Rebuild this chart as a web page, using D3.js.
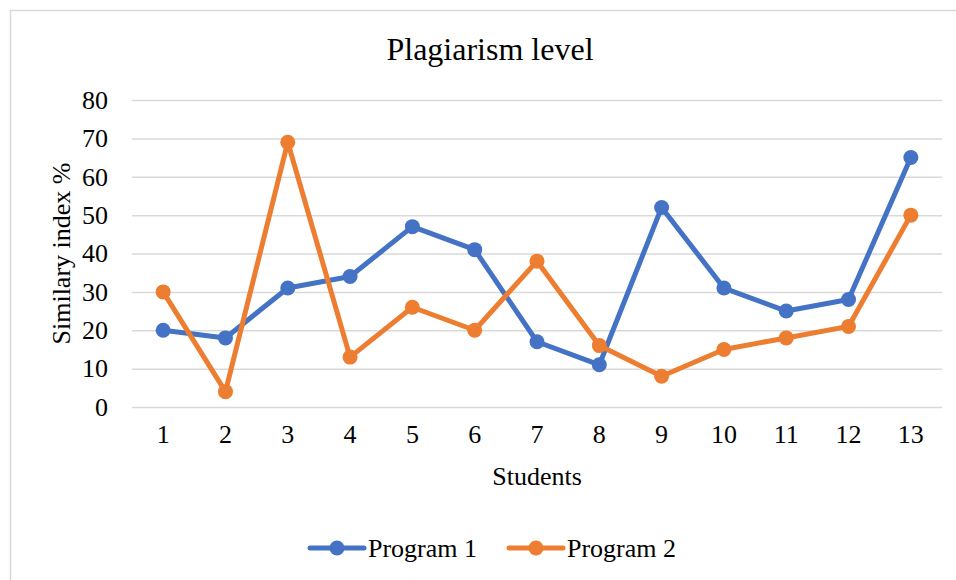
<!DOCTYPE html>
<html><head><meta charset="utf-8">
<script src="https://cdn.jsdelivr.net/npm/d3@7"></script>
<style>body{margin:0;background:#fff}svg{display:block}svg text{font-family:"Liberation Serif","Times New Roman",serif !important;fill:#000}</style>
</head><body><svg id="c" width="956" height="580"></svg>
<script>
const categories = ["1","2","3","4","5","6","7","8","9","10","11","12","13"];
const program1 = [20,18,31,34,47,41,17,11,52,31,25,28,65];
const program2 = [30,4,69,13,26,20,38,16,8,15,18,21,50];
const yTicks = [0,10,20,30,40,50,60,70,80];
const seriesNames = ["Program 1","Program 2"];
const colors = ["#4472C4","#ED7D31"];

const svg = d3.select("#c");
svg.append("rect").attr("x",10.5).attr("y",10.5).attr("width",960).attr("height",600)
  .attr("fill","#fff").attr("stroke","#D9D9D9").attr("stroke-width",1.5);

const pL=132, pR=942, pT=100, pB=407;
const x = d3.scaleBand().domain(categories).range([pL,pR]);
const y = d3.scaleLinear().domain([0,80]).range([pB,pT]);

svg.append("text").attr("x",490).attr("y",60).attr("text-anchor","middle")
  .style("font-size","32px").text("Plagiarism level");

const gy = svg.append("g").attr("transform",`translate(${pL},0)`)
  .call(d3.axisLeft(y).tickValues(yTicks).tickSize(-(pR-pL)).tickPadding(24))
  .attr("font-family","Liberation Serif").attr("font-size",26);
gy.select(".domain").remove();
gy.selectAll("line").attr("stroke","#D9D9D9").attr("stroke-width",1.5);
gy.selectAll("text").style("font-size","26px");

const gx = svg.append("g").attr("transform",`translate(0,${pB})`)
  .call(d3.axisBottom(x).tickSize(0).tickPadding(18))
  .attr("font-family","Liberation Serif").attr("font-size",26);
gx.select(".domain").remove();
gx.selectAll("text").style("font-size","26px");

svg.append("text").attr("x",537).attr("y",485).attr("text-anchor","middle")
  .style("font-size","26px").text("Students");
svg.append("text").attr("transform",`translate(70,${(pT+pB)/2}) rotate(-90)`)
  .attr("text-anchor","middle").style("font-size","26px").text("Similary index %");

const cx = d => x(d) + x.bandwidth()/2;
const line = d3.line().x(d=>cx(d.c)).y(d=>y(d.v));
[program1, program2].forEach((vals,i)=>{
  const data = vals.map((v,j)=>({c:categories[j],v}));
  svg.append("path").datum(data).attr("d",line).attr("fill","none")
    .attr("stroke",colors[i]).attr("stroke-width",5).attr("stroke-linejoin","round");
  svg.selectAll(null).data(data).enter().append("circle")
    .attr("cx",d=>cx(d.c)).attr("cy",d=>y(d.v)).attr("r",7.5).attr("fill",colors[i]);
});

const legX = [310, 509];
seriesNames.forEach((n,i)=>{
  const g = svg.append("g").attr("transform",`translate(${legX[i]},548)`);
  g.append("line").attr("x1",0).attr("x2",54).attr("stroke",colors[i]).attr("stroke-width",5).attr("stroke-linecap","round");
  g.append("circle").attr("cx",27).attr("r",7.5).attr("fill",colors[i]);
  g.append("text").attr("x",58).attr("y",9).style("font-size","26px").text(n);
});
</script></body></html>
